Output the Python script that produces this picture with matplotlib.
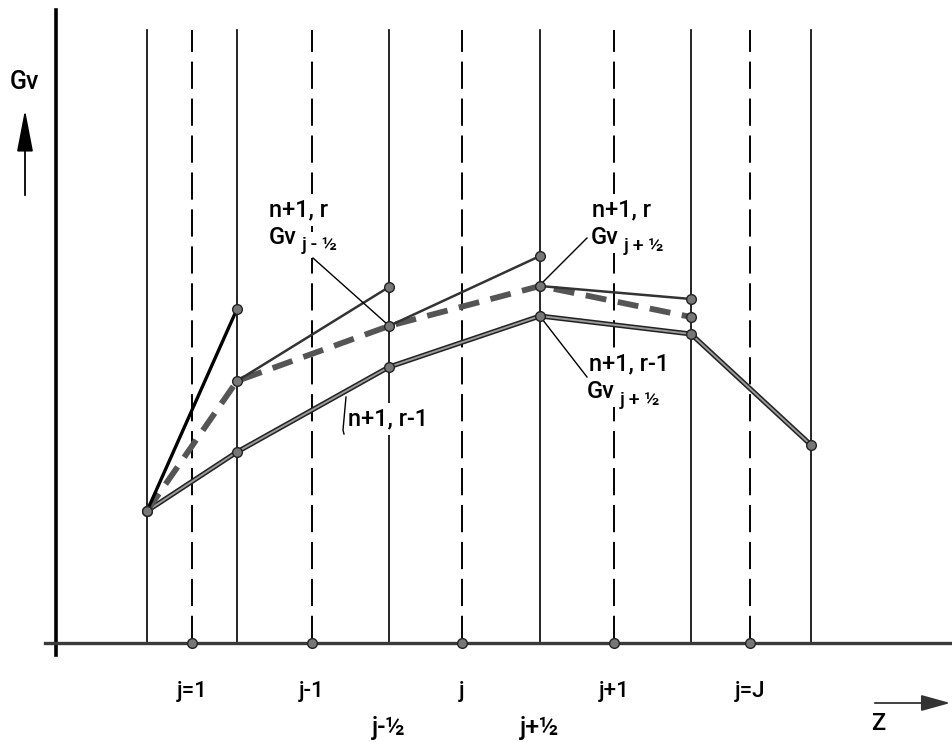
"""
plot.py
Staggered grid sketch: Gv along Z, iterations r-1 and r at time level n+1.
"""

import matplotlib
matplotlib.use("Agg")
import matplotlib.pyplot as plt

# ── data (z in grid units, Gv in arbitrary units) ──────────────
z_cells = [91, 181, 333, 484, 635, 755]        # solid lines (cell faces)
z_nodes = [136, 256, 406, 558, 694]            # dashed lines (nodes)
node_labels = ["j=1", "j-1", "j", "j+1", "j=J"]
face_labels = ["j-\u00bd", "j+\u00bd"]
face_label_idx = [2, 3]

gv_prev = [132, 191, 276, 327, 309, 198]       # n+1, r-1  (solid)
gv_curr = [132, 262, 317, 357, 326]            # n+1, r    (dashed)
gv_trial = [334, 356, 387, 344]                # trial end points of each sweep

Y_TOP = 613
FONT = ["Roboto", "Liberation Sans", "DejaVu Sans"]
WEIGHT = "medium"

fig = plt.figure(figsize=(9.53, 7.42), dpi=100)
ax = fig.add_axes([0, 0, 1, 1])
ax.set_xlim(-56, 897)
ax.set_ylim(-99, 643)
ax.axis("off")

# axes
ax.plot([0, 0], [-12, 633], color="black", lw=2.6, zorder=2)
ax.plot([-11, 897], [0, 0], color="#3a3a3a", lw=2.4, zorder=2)

# grid
for z in z_cells:
    ax.plot([z, z], [0, Y_TOP], color="black", lw=1.2, zorder=1)
for z in z_nodes:
    ax.plot([z, z], [0, Y_TOP], color="black", lw=1.4,
            linestyle=(0, (14, 5)), zorder=1)
ax.plot(z_nodes, [0] * len(z_nodes), "o", ms=7, color="#777777",
        mec="#222222", mew=1.0, zorder=5)

# r-1 iterate (solid, double pen look)
ax.plot(z_cells, gv_prev, color="#222222", lw=3.6, zorder=4,
        solid_capstyle="round")
ax.plot(z_cells, gv_prev, color="#9a9a9a", lw=1.4, zorder=4)
ax.plot(z_cells, gv_prev, "o", ms=7, color="#777777", mec="#222222",
        mew=1.0, zorder=6)

# r iterate (dashed)
ax.plot(z_cells[:len(gv_curr)], gv_curr, color="#555555", lw=4.2,
        linestyle=(0, (3.6, 2.0)), zorder=4)
ax.plot(z_cells[:len(gv_curr)], gv_curr, "o", ms=7, color="#777777",
        mec="#222222", mew=1.0, zorder=6)

# sweep segments from node r to trial value at next face
for i, g in enumerate(gv_trial):
    lw = 2.4 if i == 0 else 1.8
    col = "black" if i == 0 else "#333333"
    ax.plot([z_cells[i], z_cells[i + 1]], [gv_curr[i], g],
            color=col, lw=lw, zorder=4)
ax.plot(z_cells[1:len(gv_trial) + 1], gv_trial, "o", ms=7, color="#777777",
        mec="#222222", mew=1.0, zorder=6)

# ── annotations ────────────────────────────────────────────────
box = dict(facecolor="white", edgecolor="none", pad=3)
txt = dict(fontfamily=FONT, fontweight=WEIGHT, color="black", zorder=3,
           bbox=box)

ax.text(213, 433, "n+1, r", fontsize=17, ha="left", va="center", **txt)
ax.text(213, 406, "Gv", fontsize=17, ha="left", va="center", **txt)
ax.text(246, 398, "j - \u00bd", fontsize=14, ha="left", va="center", **txt)
ax.plot([257, 331], [385, 319], color="black", lw=1.0, zorder=4)

ax.text(536, 433, "n+1, r", fontsize=17, ha="left", va="center", **txt)
ax.text(535, 406, "Gv", fontsize=17, ha="left", va="center", **txt)
ax.text(568, 397, "j + \u00bd", fontsize=14, ha="left", va="center", **txt)
ax.plot([531, 484], [405, 358], color="black", lw=1.0, zorder=4)

ax.text(533, 279, "n+1, r-1", fontsize=17, ha="left", va="center", **txt)
ax.text(531, 252, "Gv", fontsize=17, ha="left", va="center", **txt)
ax.text(564, 243, "j + \u00bd", fontsize=14, ha="left", va="center", **txt)
ax.plot([531, 483], [266, 328], color="black", lw=1.0, zorder=4)

ax.text(292, 224, "n+1, r-1", fontsize=17, ha="left", va="center", **txt)
ax.plot([290, 287, 288], [246, 213, 209], color="black", lw=1.0, zorder=4)

# axis titles and arrows
ax.text(-32, 561, "Gv", fontsize=18, ha="center", va="center",
        fontfamily=FONT, fontweight=WEIGHT)
ax.annotate("", xy=(-31, 536), xytext=(-31, 445),
            arrowprops=dict(arrowstyle="-|>,head_length=1.3,head_width=0.25",
                            color="black", lw=1.3, mutation_scale=20))
ax.text(822, -81, "Z", fontsize=17, ha="center", va="center",
        fontfamily=FONT, fontweight=WEIGHT)
ax.annotate("", xy=(897, -60), xytext=(816, -60),
            arrowprops=dict(arrowstyle="-|>,head_length=0.9,head_width=0.25",
                            color="#333333", lw=1.3, mutation_scale=20))

# node / face labels under the axis
for z, lab in zip(z_nodes, node_labels):
    ax.text(z, -48, lab, fontsize=16, ha="center", va="center",
            fontfamily=FONT, fontweight=WEIGHT)
for i, lab in zip(face_label_idx, face_labels):
    ax.text(z_cells[i], -85, lab, fontsize=18, ha="center", va="center",
            fontfamily=FONT, fontweight=WEIGHT)

fig.savefig("out.png", dpi=100, facecolor="white")
plt.close(fig)
